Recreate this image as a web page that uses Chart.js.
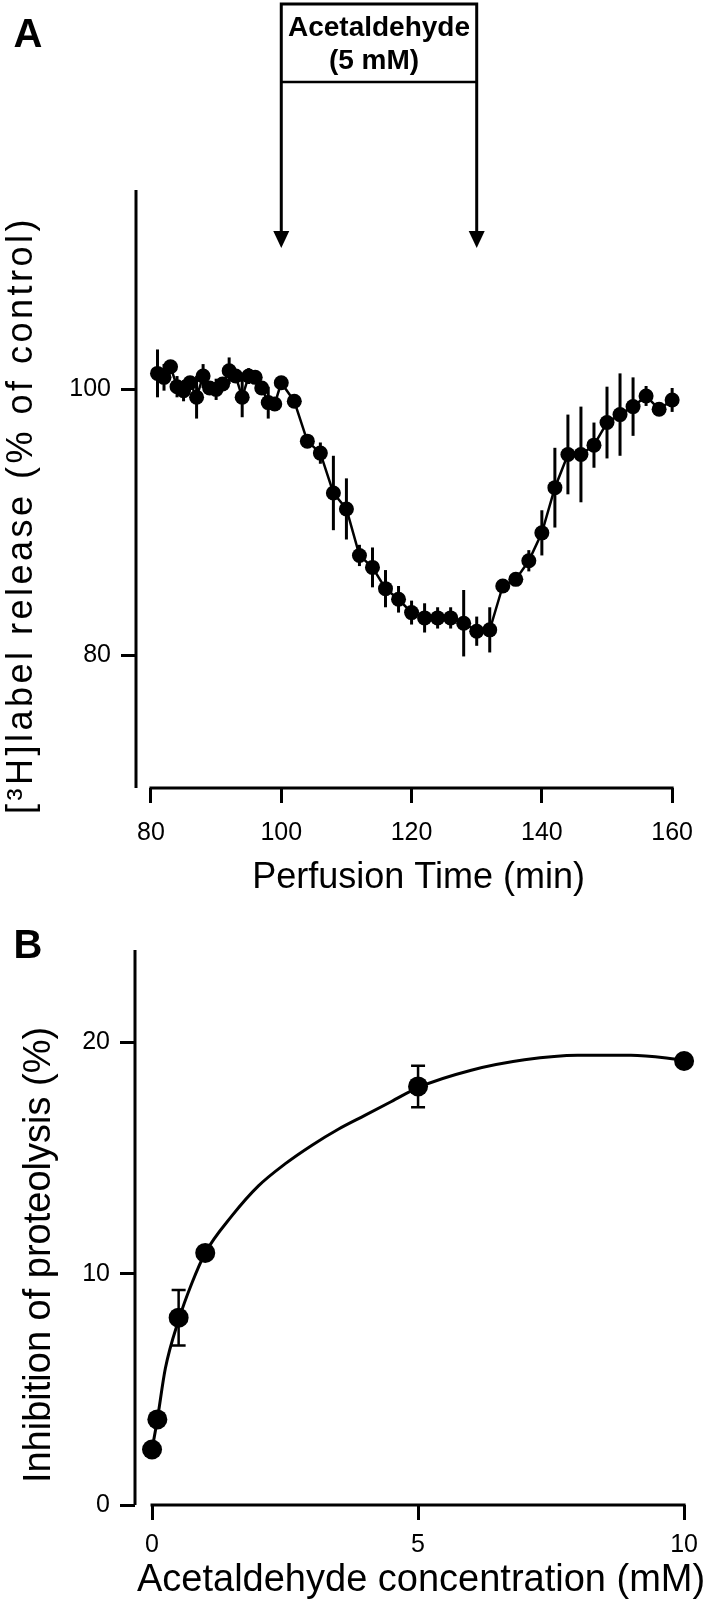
<!DOCTYPE html>
<html><head><meta charset="utf-8">
<script src="https://cdn.jsdelivr.net/npm/chart.js@4/dist/chart.umd.min.js"></script>
<style>
html,body{margin:0;padding:0;background:#fff;}
#wrap{position:relative;width:708px;height:1605px;overflow:hidden;}
.box{position:absolute;left:0;width:708px;}
</style></head><body>
<div id="wrap">
<div class="box" style="top:0;height:905px"><canvas id="cA"></canvas></div>
<div class="box" style="top:905px;height:700px"><canvas id="cB"></canvas></div>
</div>
<script>
// ---------- Panel A data ----------
const timeA = [81,82,83,84,85,86,87,88,89,90,91,92,93,94,95,96,97,98,99,100,
  102,104,106,108,110,112,114,116,118,120,122,124,126,128,130,132,134,136,138,140,
  142,144,146,148,150,152,154,156,158,160];
const releaseA = [101.2,100.9,101.7,100.2,99.9,100.5,99.4,101.0,100.1,100.0,100.4,101.4,101.0,99.4,101.0,100.9,100.1,99.0,98.9,100.5,
  99.1,96.1,95.2,92.2,91.0,87.5,86.6,85.0,84.2,83.2,82.8,82.8,82.8,82.4,81.8,81.9,85.2,85.7,87.1,89.2,
  92.6,95.1,95.1,95.8,97.5,98.1,98.7,99.5,98.5,99.2];
const errA = [1.8,1.0,0.5,0.8,0.8,0.5,1.6,0.9,0.5,0.8,0.5,1.0,0.5,1.5,0.6,0.5,0.5,1.2,0.5,0.3,
  0.3,0.4,0.8,2.8,2.3,0.8,1.5,1.4,1.0,0.9,1.1,0.8,0.8,2.5,1.1,1.7,0.4,0.5,0.8,1.7,
  3.0,3.0,3.6,1.7,2.7,3.1,2.2,0.75,0.3,0.9];
const xTicksA = [80,100,120,140,160];
const yTicksA = [80,100];
const treatStart = 100, treatEnd = 130;
const treatLabel = ['Acetaldehyde', '(5 mM)'];

// ---------- Panel B data ----------
const concB = [0, 0.1, 0.5, 1, 5, 10];
const inhibB = [2.4, 3.7, 8.1, 10.9, 18.1, 19.2];
const errB = [0, 0, 1.2, 0, 0.9, 0];
const fitX = [0, 0.1, 0.25, 0.5, 0.75, 1, 1.5, 2, 2.5, 3, 3.5, 4, 4.5, 5, 6, 7, 8, 9, 10];
const fitY = [2.4, 3.7, 5.9, 8.0, 9.6, 10.9, 12.5, 13.8, 14.75, 15.55, 16.25, 16.85, 17.45, 18.05, 18.8, 19.25, 19.45, 19.45, 19.25];
const xTicksB = [0, 5, 10];
const yTicksB = [0, 10, 20];

const FONT = "'Liberation Sans', Arial, Helvetica, sans-serif";

function makeScale(min, max, ticks, size, pad, fitFn) {
  return {
    type: 'linear', min: min, max: max,
    afterBuildTicks: s => { s.ticks = ticks.map(v => ({value: v})); },
    afterFit: fitFn,
    border: {display: false},
    grid: {display: true, drawOnChartArea: false, drawTicks: true, tickLength: 15, tickWidth: 3, tickColor: '#000'},
    ticks: {color: '#000', font: {family: FONT, size: size}, padding: pad}
  };
}

const panelPlugin = {
  id: 'panelPlugin',
  beforeDatasetsDraw(chart) {
    const o = chart.options.plugins.panelPlugin;
    const ctx = chart.ctx, xs = chart.scales.x, ys = chart.scales.y, ca = chart.chartArea;
    ctx.save();
    ctx.strokeStyle = '#000';
    ctx.lineCap = 'butt';
    ctx.lineWidth = 3;
    ctx.beginPath();
    ctx.moveTo(ca.left, ca.top); ctx.lineTo(ca.left, ca.bottom);
    ctx.moveTo(xs.getPixelForValue(o.xFrom) - 1.5, ca.bottom); ctx.lineTo(xs.getPixelForValue(o.xTo) + 1.5, ca.bottom);
    ctx.stroke();
    ctx.lineWidth = o.errWidth;
    for (let i = 0; i < o.ex.length; i++) {
      if (!o.ee[i]) continue;
      const x = xs.getPixelForValue(o.ex[i]);
      const y1 = ys.getPixelForValue(o.ey[i] + o.ee[i]);
      const y2 = ys.getPixelForValue(o.ey[i] - o.ee[i]);
      ctx.beginPath(); ctx.moveTo(x, y1); ctx.lineTo(x, y2); ctx.stroke();
      if (o.cap) {
        ctx.beginPath();
        ctx.moveTo(x - o.cap, y1); ctx.lineTo(x + o.cap, y1);
        ctx.moveTo(x - o.cap, y2); ctx.lineTo(x + o.cap, y2);
        ctx.stroke();
      }
    }
    ctx.restore();
  },
  afterDraw(chart) {
    const o = chart.options.plugins.panelPlugin;
    const ctx = chart.ctx, xs = chart.scales.x, ca = chart.chartArea;
    ctx.save();
    ctx.fillStyle = '#000';
    ctx.textAlign = 'center'; ctx.textBaseline = 'middle';
    ctx.font = 'bold 40px ' + FONT;
    ctx.fillText(o.letter, o.letterX, o.letterY);
    ctx.font = o.titleSize + 'px ' + FONT;
    ctx.fillText(o.xTitle, (xs.getPixelForValue(o.xFrom) + xs.getPixelForValue(o.xTo)) / 2 + o.xTitleDX, o.xTitleY);
    ctx.save();
    ctx.translate(o.yTitleX, o.yTitleY);
    ctx.rotate(-Math.PI / 2);
    ctx.font = o.yTitleSize + 'px ' + FONT;
    if (o.yTitleSpacing) ctx.letterSpacing = o.yTitleSpacing;
    ctx.fillText(o.yTitle, 0, 0);
    ctx.restore();
    if (o.treat) {
      const x1 = xs.getPixelForValue(o.treat.start), x2 = xs.getPixelForValue(o.treat.end);
      const top = 4, hdr = 82, tip = 248;
      ctx.strokeStyle = '#000';
      ctx.lineWidth = 3;
      ctx.beginPath();
      ctx.moveTo(x1, tip - 14); ctx.lineTo(x1, top); ctx.lineTo(x2, top); ctx.lineTo(x2, tip - 14);
      ctx.stroke();
      ctx.lineWidth = 2.5;
      ctx.beginPath(); ctx.moveTo(x1, hdr); ctx.lineTo(x2, hdr); ctx.stroke();
      [x1, x2].forEach(x => {
        ctx.beginPath();
        ctx.moveTo(x - 8, tip - 17); ctx.lineTo(x + 8, tip - 17); ctx.lineTo(x, tip);
        ctx.closePath(); ctx.fill();
      });
      ctx.font = 'bold 28px ' + FONT;
      ctx.fillText(o.treat.label[0], (x1 + x2) / 2, 28);
      ctx.fillText(o.treat.label[1], (x1 + x2) / 2 - 5, 61);
    }
    ctx.restore();
  }
};

// ---------- Chart A ----------
new Chart(document.getElementById('cA'), {
  type: 'line',
  data: {
    datasets: [{
      data: timeA.map((t, i) => ({x: t, y: releaseA[i]})),
      borderColor: '#000', backgroundColor: '#000', borderWidth: 2.5,
      pointRadius: 7.5, pointHoverRadius: 7.5, pointBorderWidth: 0, tension: 0, clip: false
    }]
  },
  options: {
    responsive: true, maintainAspectRatio: false, animation: false,
    layout: {padding: {left: 0, top: 190, right: 24, bottom: 57}},
    scales: {
      x: makeScale(77.7, 160, xTicksA, 25, 15, s => { s.height = 60; }),
      y: makeScale(70, 115, yTicksA, 25, 10, s => { s.width = 136; })
    },
    plugins: {
      legend: {display: false}, tooltip: {enabled: false},
      panelPlugin: {
        letter: 'A', letterX: 28, letterY: 36,
        xFrom: 80, xTo: 160, xTitle: 'Perfusion Time (min)', xTitleDX: 7, xTitleY: 878, titleSize: 36,
        yTitle: '[\u00B3H]label release (% of control)', yTitleX: 22, yTitleY: 515, yTitleSize: 36, yTitleSpacing: '3.5px',
        ex: timeA, ey: releaseA, ee: errA, errWidth: 3, cap: 0,
        treat: {start: treatStart, end: treatEnd, label: treatLabel}
      }
    }
  },
  plugins: [panelPlugin]
});

// ---------- Chart B ----------
new Chart(document.getElementById('cB'), {
  type: 'line',
  data: {
    datasets: [{
      data: fitX.map((x, i) => ({x: x, y: fitY[i]})),
      borderColor: '#000', borderWidth: 3, pointRadius: 0, cubicInterpolationMode: 'monotone', clip: false
    }, {
      data: concB.map((x, i) => ({x: x, y: inhibB[i]})),
      showLine: false, backgroundColor: '#000', borderColor: '#000',
      pointRadius: 10, pointHoverRadius: 10, pointBorderWidth: 0, clip: false
    }]
  },
  options: {
    responsive: true, maintainAspectRatio: false, animation: false,
    layout: {padding: {left: 0, top: 45, right: 22, bottom: 40}},
    scales: {
      x: makeScale(-0.32, 10, xTicksB, 25, 10, s => { s.height = 60; }),
      y: makeScale(0, 24, yTicksB, 25, 10, s => { s.width = 135; })
    },
    plugins: {
      legend: {display: false}, tooltip: {enabled: false},
      panelPlugin: {
        letter: 'B', letterX: 28, letterY: 42,
        xFrom: 0, xTo: 10, xTitle: 'Acetaldehyde concentration (mM)', xTitleDX: 3, xTitleY: 676, titleSize: 38,
        yTitle: 'Inhibition of proteolysis (%)', yTitleX: 40, yTitleY: 350, yTitleSize: 38,
        ex: concB, ey: inhibB, ee: errB, errWidth: 2.5, cap: 7
      }
    }
  },
  plugins: [panelPlugin]
});
</script>
</body></html>
